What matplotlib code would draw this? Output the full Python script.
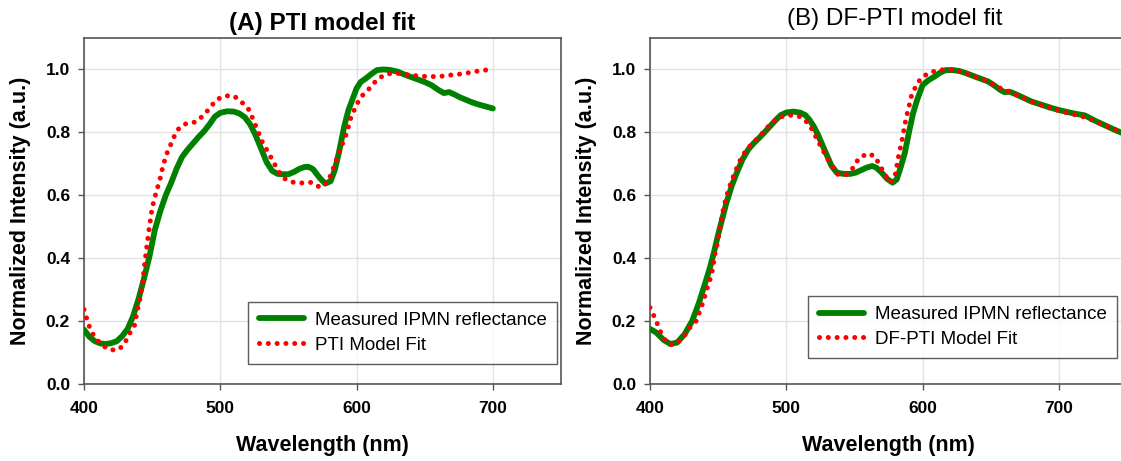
import numpy as np
import matplotlib
matplotlib.use("Agg")
import matplotlib.pyplot as plt

plt.rcParams['font.family'] = ['Liberation Sans', 'DejaVu Sans']

# (A) measured reflectance and PTI model fit
wl_a_meas = [400, 404, 408, 412, 416, 420, 424, 428, 432, 436, 440, 444, 448, 452, 456,
             460, 464, 468, 472, 476, 480, 484, 488, 492, 496, 500, 505, 510, 514, 518,
             522, 526, 530, 534, 538, 542, 546, 550, 554, 558, 562, 565, 568, 573, 577,
             581, 584, 587, 591, 594, 597, 600, 603, 607, 611, 615, 620, 625, 630, 635,
             640, 645, 650, 655, 660, 664, 668, 672, 676, 680, 685, 690, 695, 700]
int_a_meas = [.173, .150, .136, .129, .127, .130, .136, .152, .175, .215, .270, .335, .405, .490, .550,
              .600, .640, .685, .722, .745, .765, .785, .803, .825, .850, .862, .867, .866, .860, .848,
              .825, .790, .748, .705, .678, .668, .667, .667, .674, .684, .690, .690, .683, .655, .637,
              .645, .680, .735, .820, .870, .905, .940, .960, .972, .986, .998, 1.0, .998, .993, .984,
              .976, .968, .960, .950, .935, .925, .928, .920, .911, .904, .895, .888, .882, .876]

wl_a_fit = [400, 402, 404, 407, 412, 418, 424, 429, 433, 437, 439, 441, 443, 444.5, 446,
            448, 450, 453, 456, 458, 461, 464, 467, 470, 475, 482, 488, 492, 497, 503,
            510, 516, 521, 524, 527, 531, 536, 541, 545, 550, 555, 561, 567, 571, 574,
            579, 582, 584, 587, 590, 593, 595, 600, 604, 610, 615, 621, 628, 636, 646,
            654, 664, 672, 678, 685, 692, 700]
int_a_fit = [.237, .208, .182, .155, .128, .110, .107, .122, .157, .186, .231, .269, .322, .381, .434,
             .500, .560, .610, .655, .695, .735, .765, .795, .815, .828, .833, .855, .876, .903, .916,
             .916, .895, .872, .842, .810, .768, .730, .690, .660, .645, .640, .639, .641, .630, .625,
             .644, .674, .700, .732, .768, .800, .837, .889, .916, .942, .968, .984, .989, .984, .979,
             .977, .979, .984, .986, .992, .997, 1.0]

# (B) measured reflectance and DF-PTI model fit
wl_b_meas = [400, 404.5, 410, 415, 420, 425.5, 431, 436, 441, 444, 447, 450, 453, 456, 460,
             464, 468, 472, 476, 480, 484, 488, 492, 496, 500, 505, 510, 514, 517, 520,
             523, 526, 529, 533, 537, 542, 547, 551, 555, 559, 563, 566, 570, 574, 578,
             581, 584, 587, 590, 593, 596, 600, 604, 609, 613, 617, 622, 627, 632, 638,
             643, 648, 653, 657, 660, 664, 668, 672, 676, 680, 685, 690, 695, 700, 705,
             710, 715, 719, 723, 727, 732, 737, 742, 746, 750]
int_b_meas = [.175, .164, .140, .127, .132, .159, .201, .259, .328, .370, .420, .475, .525, .575, .630,
              .675, .715, .745, .765, .782, .800, .819, .838, .855, .863, .866, .863, .855, .840, .820,
              .795, .765, .735, .695, .672, .668, .668, .672, .680, .688, .693, .688, .672, .652, .640,
              .650, .690, .735, .800, .860, .903, .950, .965, .978, .990, .998, .998, .995, .988, .978,
              .970, .962, .948, .935, .928, .929, .922, .914, .906, .898, .891, .884, .877, .871, .866,
              .861, .857, .854, .845, .836, .826, .816, .806, .799, .792]

wl_b_fit = [400, 403, 405.8, 408.4, 412, 416, 419, 424.7, 429, 434, 436.5, 438.6, 440.7, 442.5, 444.6,
            446, 447, 448, 449.6, 450.6, 453, 456, 459, 462, 466, 470, 474, 478, 482, 486,
            490, 494, 498, 502, 506, 510, 513, 517, 520, 523, 526, 529, 533, 538, 543.6,
            549, 553, 559.5, 565, 568.5, 572.4, 576, 580, 582.4, 585, 587.7, 590, 592, 594.7, 598.7,
            605, 612, 618, 625, 632, 638, 643, 648, 653, 658, 664, 668, 672, 676, 680,
            685, 690, 695, 700, 705, 710, 715, 720, 725, 730, 735, 740, 745, 750]
int_b_fit = [.243, .215, .187, .159, .132, .125, .127, .150, .178, .201, .231, .256, .286, .312, .339,
             .367, .394, .421, .450, .476, .540, .595, .635, .670, .710, .740, .760, .777, .795, .815,
             .832, .845, .852, .855, .853, .850, .842, .824, .800, .775, .750, .726, .696, .666, .664,
             .687, .716, .733, .724, .696, .666, .640, .666, .724, .777, .840, .882, .919, .943, .972,
             .990, .998, 1.0, .996, .988, .978, .970, .962, .950, .938, .929, .921, .913, .905, .897,
             .890, .882, .875, .869, .863, .858, .853, .847, .838, .829, .820, .811, .802, .793]

panels = [
    ("(A) PTI model fit", "bold", 6, wl_a_meas, int_a_meas, wl_a_fit, int_a_fit, "PTI Model Fit",
     84, (0.992, 0.058), 0.5, 11),
    ("(B) DF-PTI model fit", "normal", 9, wl_b_meas, int_b_meas, wl_b_fit, int_b_fit, "DF-PTI Model Fit",
     650, (0.979, 0.075), 0.513, 11),
]

W, H = 1121, 461
fig = plt.figure(figsize=(W / 100, H / 100), dpi=100)

for title, tw, tpad, xm, ym, xf, yf, fitlab, px, lpos, tx, ylpad in panels:
    ax = fig.add_axes([px / W, (H - 384) / H, 477 / W, 346 / H])
    ax.plot(xm, ym, color='#008000', lw=4.2, solid_capstyle='round',
            label='Measured IPMN reflectance', zorder=3)
    ax.plot(xf, yf, color='#ff0000', lw=3.6, linestyle=(0, (0.01, 1.75)),
            dash_capstyle='round', label=fitlab, zorder=4)
    ax.set_xlim(400, 750)
    ax.set_ylim(0, 1.1)
    ax.set_xticks([400, 500, 600, 700])
    ax.set_yticks(np.arange(0, 1.01, 0.2))
    ax.set_yticklabels(['0.0', '0.2', '0.4', '0.6', '0.8', '1.0'])
    ax.grid(True, color='#e3e3e3', lw=1.0)
    ax.set_axisbelow(True)
    for s in ax.spines.values():
        s.set_color('#555555')
        s.set_linewidth(1.2)
    ax.tick_params(direction='out', length=4, width=1.0, color='#555555',
                   labelsize=12.5)
    ax.tick_params(axis='x', pad=8)
    ax.tick_params(axis='y', pad=6)
    for lab in ax.get_xticklabels() + ax.get_yticklabels():
        lab.set_fontweight('bold')
    ax.set_xlabel('Wavelength (nm)', fontsize=15.5, fontweight='bold', labelpad=14)
    ax.set_ylabel('Normalized Intensity (a.u.)', fontsize=15.5, fontweight='bold', labelpad=ylpad)
    ax.set_title(title, fontsize=17.5, fontweight=tw, pad=tpad, x=tx)
    leg = ax.legend(loc='lower right', bbox_to_anchor=lpos, borderaxespad=0,
                    fontsize=13.5, frameon=True, fancybox=False, handlelength=2.4,
                    labelspacing=0.4, borderpad=0.55, handletextpad=0.6)
    leg.get_frame().set_edgecolor('#333333')
    leg.get_frame().set_linewidth(1.0)

fig.savefig('out.png', dpi=100)
